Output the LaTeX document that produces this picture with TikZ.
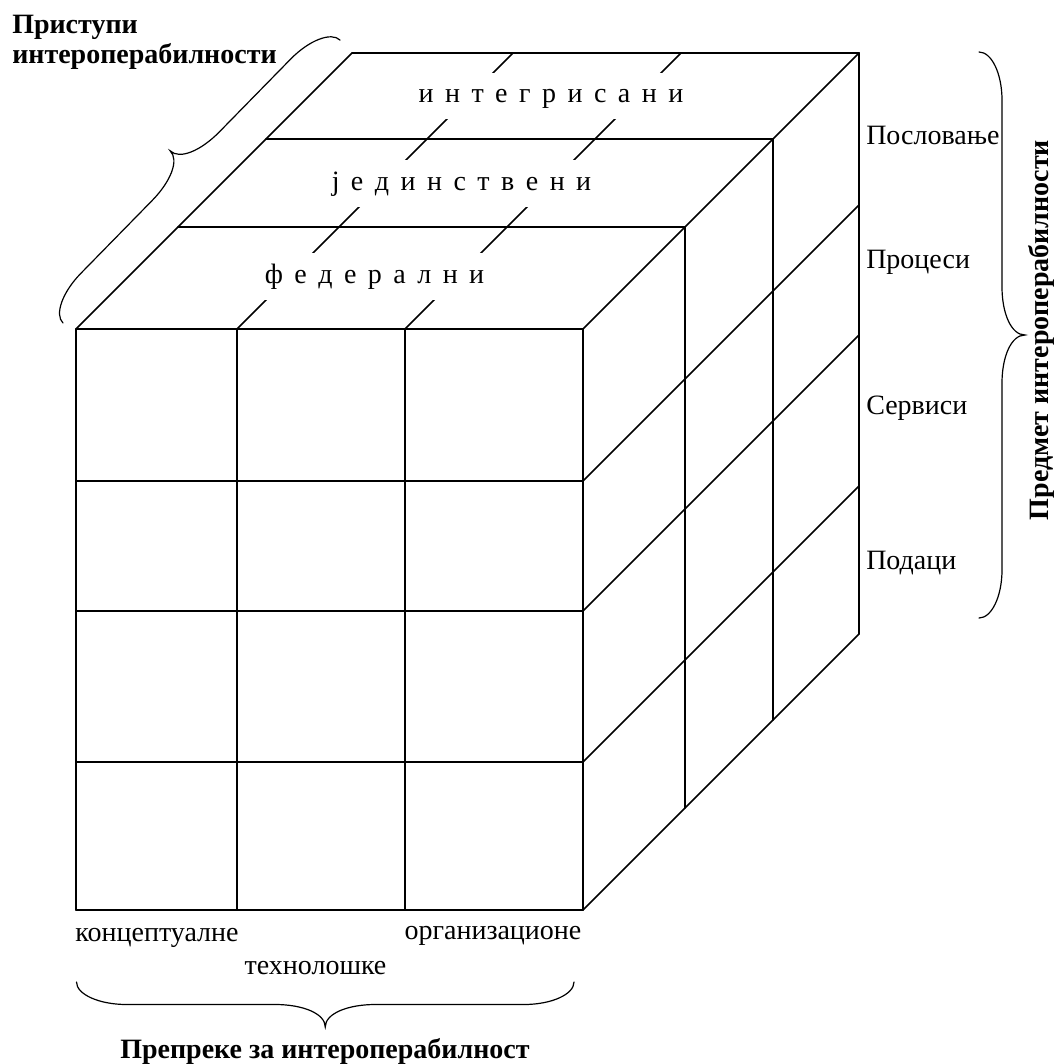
\documentclass[tikz,border=0pt]{standalone}
\usepackage{fontspec}
\setmainfont{Liberation Serif}
\newfontfamily\spacedfont[WordSpace=1.64]{Liberation Serif}
\begin{document}
\begin{tikzpicture}[x=0.75pt,y=-0.75pt,
  grid/.style={line width=1.2pt,line cap=round,line join=round},
  bracestroke/.style={line width=0.9pt,line cap=round},
  band/.style={fill=white,inner sep=0pt,minimum width=285pt,minimum height=35pt,
    font=\spacedfont\fontsize{21}{25}\selectfont},
  lab/.style={inner sep=0pt,font=\fontsize{21}{25}\selectfont},
  boldlab/.style={inner sep=0pt,font=\bfseries\fontsize{21}{22.5}\selectfont},
  pics/wbrace/.style n args={3}{code={
    \draw[bracestroke] (0,0) .. controls (0,{-0.55*#2/2}) and ({0.45*#3},{-#2/2}) .. (#3,{-#2/2})
      -- ({#1/2-#3},{-#2/2}) .. controls ({#1/2-0.45*#3},{-#2/2}) and ({#1/2},{-0.7*#2}) .. ({#1/2},{-#2})
      .. controls ({#1/2},{-0.7*#2}) and ({#1/2+0.45*#3},{-#2/2}) .. ({#1/2+#3},{-#2/2})
      -- ({#1-#3},{-#2/2}) .. controls ({#1-0.45*#3},{-#2/2}) and (#1,{-0.55*#2/2}) .. (#1,0);
  }}]
\useasboundingbox (0,0) rectangle (1057,1064);

% front face
\foreach \x in {76,237,405,583} \draw[grid] (\x,329) -- (\x,910);
\foreach \y in {329,481,611,762,910} \draw[grid] (76,\y) -- (583,\y);
% top face
\foreach \x in {76,237,405,583} \draw[grid] (\x,329) -- ++(276,-276);
\foreach \d in {102,190,276} \draw[grid] ({76+\d},{329-\d}) -- ({583+\d},{329-\d});
% right face
\foreach \d in {102,190,276} \draw[grid] ({583+\d},{329-\d}) -- ({583+\d},{910-\d});
\foreach \y in {481,611,762,910} \draw[grid] (583,\y) -- ++(276,-276);

% layer names on the top face
\node[band] (fed) at (374.5,276.5) {\strut ф е д е р а л н и};
\node[band] (jed) at (461.5,183.5) {\strut ј е д и н с т в е н и};
\node[band] (int) at (551,96) {\strut и н т е г р и с а н и};

% row names
\node[lab,anchor=base west] (posl) at (866,144) {Пословање};
\node[lab,anchor=base west] (proc) at (866,268) {Процеси};
\node[lab,anchor=base west] (serv) at (866,414) {Сервиси};
\node[lab,anchor=base west] (pod) at (866,569) {Подаци};

% column names
\node[lab,anchor=base] (konc) at (157,941) {концептуалне};
\node[lab,anchor=base] (tehn) at (315.5,974) {технолошке};
\node[lab,anchor=base] (org) at (493,939) {организационе};

% braces
\pic[rotate=-90] (rbr) at (979,52) {wbrace={566}{46}{48}};
\pic[rotate=180] (bbr) at (574,982) {wbrace={497.5}{45}{50}};
\pic[rotate=45.6] (lbr) at (63,323) {wbrace={396}{44}{48}};

% axis titles
\node[boldlab,anchor=north west,align=left] (pristupi) at (12,14.5) {Приступи\\интероперабилности};
\node[boldlab,rotate=90,anchor=base] (predmet) at (1048,330) {Предмет интероперабилности};
\node[boldlab,anchor=base] (prepreke) at (325,1058) {Препреке за интероперабилност};
\end{tikzpicture}
\end{document}
